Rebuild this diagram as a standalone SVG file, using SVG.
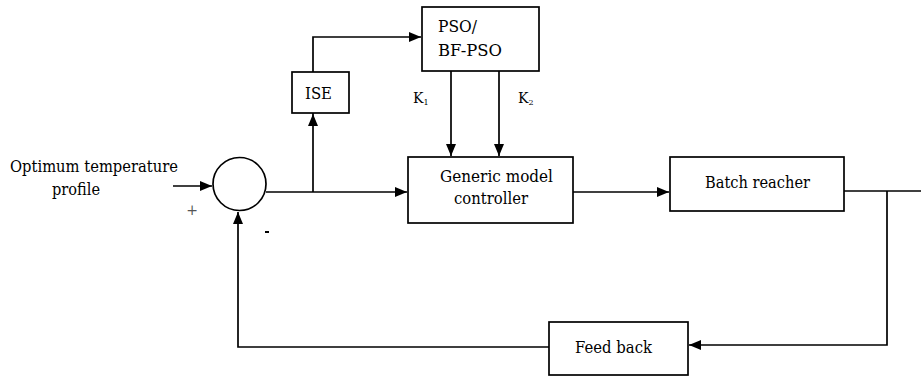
<svg xmlns="http://www.w3.org/2000/svg" width="921" height="376" viewBox="0 0 921 376">
  <style>
    .blk { fill: #fff; stroke: #000; stroke-width: 1.7; }
    .ln { fill: none; stroke: #000; stroke-width: 1.7; }
    .arr { fill: none; stroke: #000; stroke-width: 1.7; marker-end: url(#head); }
    .txt { font-family: "DejaVu Serif", "Liberation Serif", "Times New Roman", serif; fill: #000; }
    .lbl { font-size: 17px; }
    .gain { font-size: 14px; }
    .sub { font-size: 8px; }
  </style>
  <defs>
    <marker id="head" markerWidth="12" markerHeight="10" refX="12" refY="5" orient="auto" markerUnits="userSpaceOnUse">
      <path d="M0,0 L12,5 L0,10 Z" fill="#000"/>
    </marker>
  </defs>

  <rect width="921" height="376" fill="#fff"/>

  <!-- signal paths -->
  <g id="connectors">
    <path class="arr" d="M173,186 L212,186"/>
    <path class="arr" d="M266,192 L407,192"/>
    <path class="arr" d="M313,192 L313,114"/>
    <path class="arr" d="M313,114 L313,37 L421,37"/>
    <path class="arr" d="M451,71 L451,156"/>
    <path class="arr" d="M499,71 L499,156"/>
    <path class="arr" d="M573,192 L669,192"/>
    <path class="ln" d="M844,191 L921,191"/>
    <path class="arr" d="M887,191 L887,345 L689,345"/>
    <path class="arr" d="M549,347 L238,347 L238,212"/>
  </g>

  <g class="txt">
    <!-- summing junction with its sign marks -->
    <g id="sum">
      <circle class="blk" cx="239.5" cy="184" r="26.5"/>
      <text x="192" y="215" font-size="14" text-anchor="middle" fill="#555">+</text>
      <rect x="265" y="231" width="4" height="2" fill="#000"/>
    </g>

    <g id="input">
      <text class="lbl" x="10" y="172" textLength="168" lengthAdjust="spacingAndGlyphs">Optimum temperature</text>
      <text class="lbl" x="52" y="195" textLength="48" lengthAdjust="spacingAndGlyphs">profile</text>
    </g>

    <g id="ise">
      <rect class="blk" x="292" y="72" width="57" height="41"/>
      <text class="lbl" x="305" y="99" textLength="27" lengthAdjust="spacingAndGlyphs">ISE</text>
    </g>

    <g id="pso">
      <rect class="blk" x="422" y="7" width="117" height="64"/>
      <text class="lbl" x="438" y="32" textLength="39" lengthAdjust="spacingAndGlyphs">PSO/</text>
      <text class="lbl" x="438" y="56" textLength="64" lengthAdjust="spacingAndGlyphs">BF-PSO</text>
      <text class="gain" x="413" y="103">K<tspan class="sub" dy="2">1</tspan></text>
      <text class="gain" x="518" y="103">K<tspan class="sub" dy="2">2</tspan></text>
    </g>

    <g id="controller">
      <rect class="blk" x="408" y="157" width="165" height="66"/>
      <text class="lbl" x="440" y="182" textLength="113" lengthAdjust="spacingAndGlyphs">Generic model</text>
      <text class="lbl" x="454" y="204" textLength="74" lengthAdjust="spacingAndGlyphs">controller</text>
    </g>

    <g id="reactor">
      <rect class="blk" x="670" y="157" width="174" height="54"/>
      <text class="lbl" x="705" y="188" textLength="105" lengthAdjust="spacingAndGlyphs">Batch reacher</text>
    </g>

    <g id="feedback">
      <rect class="blk" x="549" y="322" width="139" height="53"/>
      <text class="lbl" x="575" y="353" textLength="77" lengthAdjust="spacingAndGlyphs">Feed back</text>
    </g>
  </g>
</svg>
